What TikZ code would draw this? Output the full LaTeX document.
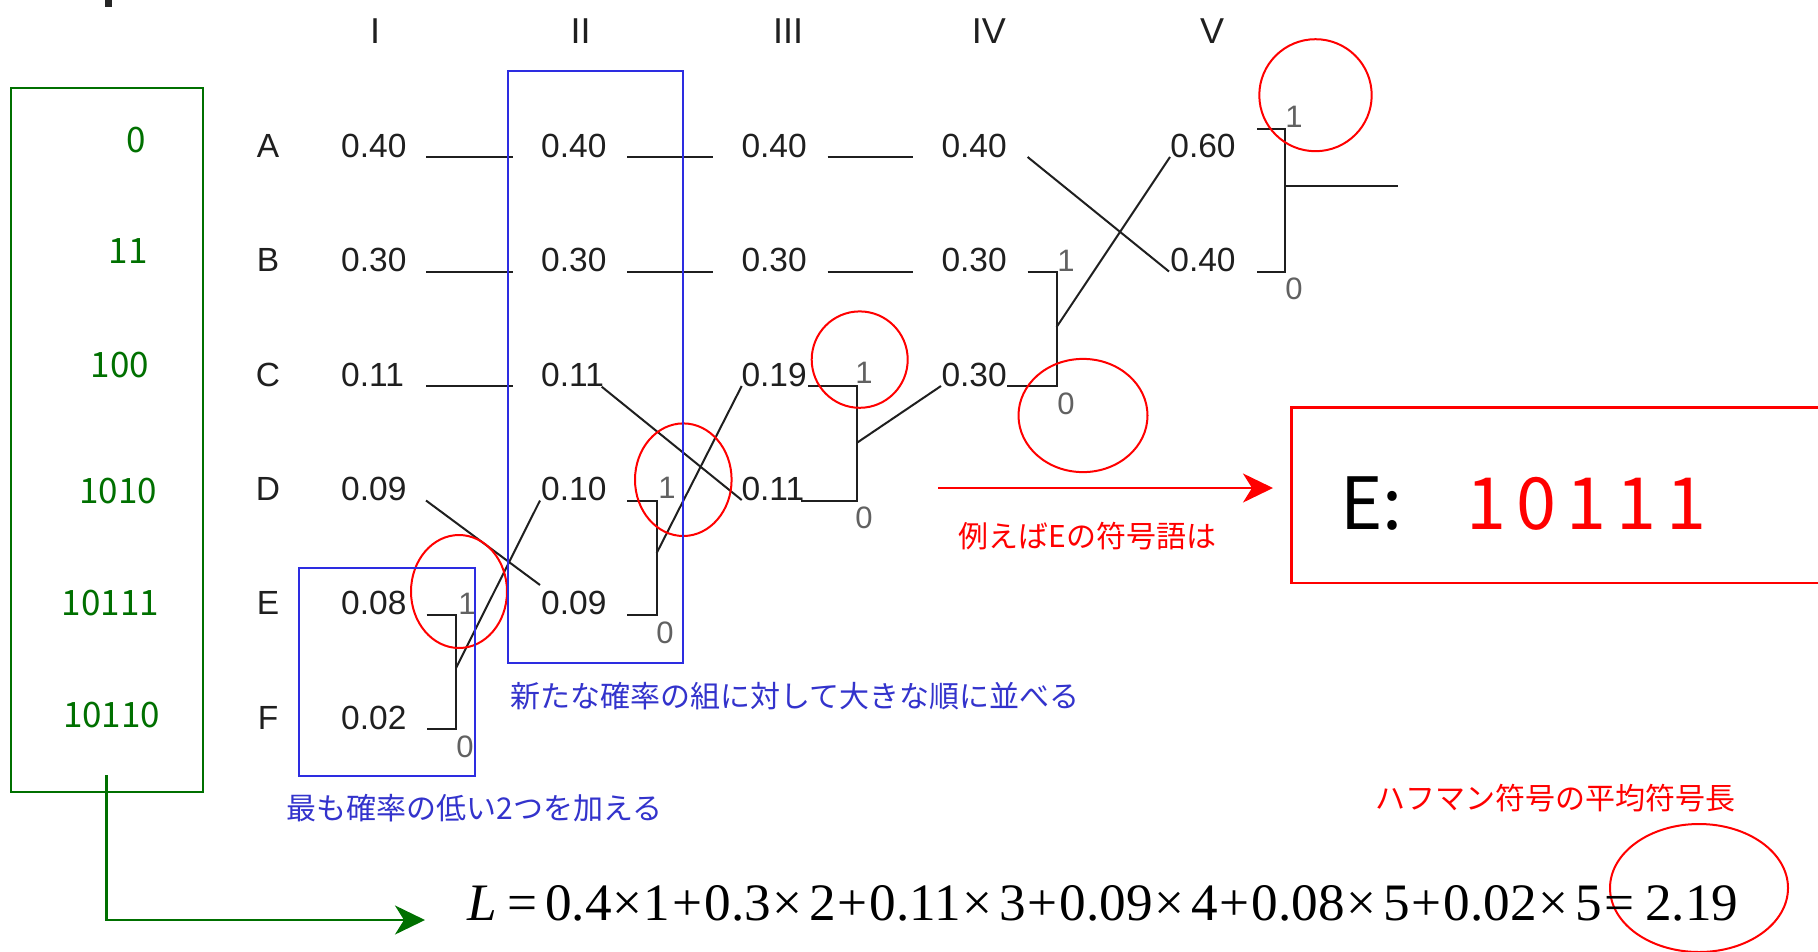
\documentclass[tikz,border=0pt]{standalone}
\usepackage{fontspec}
\setmainfont{Liberation Sans}
\newfontfamily\jp{Noto Sans CJK JP}
\newfontfamily\tms{Liberation Serif}
\usetikzlibrary{arrows.meta}
\definecolor{grn}{RGB}{0,112,0}
\definecolor{blutxt}{RGB}{51,51,204}
\definecolor{boxblue}{RGB}{45,45,225}
\definecolor{rd}{RGB}{255,0,0}
\definecolor{ink}{gray}{0.12}
\definecolor{lblgray}{gray}{0.38}
\begin{document}
\begin{tikzpicture}[x=1pt,y=-1pt,
  numtxt/.style={font=\fontsize{33.5}{38}\selectfont, text=ink, inner sep=0pt, anchor=base west},
  rowtxt/.style={font=\fontsize{33.5}{38}\selectfont, text=ink, inner sep=0pt, anchor=base},
  hdr/.style={font=\fontsize{36}{40}\selectfont, text=ink, inner sep=0pt, anchor=base},
  lbl/.style={font=\fontsize{31}{34}\selectfont, text=lblgray, inner sep=0pt},
  codetxt/.style={font=\jp\fontsize{35}{40}\selectfont, text=grn, inner sep=0pt, anchor=base},
  bluetxt/.style={font=\jp\fontsize{30}{34}\selectfont, text=blutxt, inner sep=0pt, anchor=west},
  redtxt/.style={font=\jp\fontsize{30}{34}\selectfont, text=rd, inner sep=0pt, anchor=west},
  conn/.style={draw=ink, line width=2pt},
  bluebox/.style={draw=boxblue, line width=2pt},
  greenbox/.style={draw=grn, line width=2.5pt},
  redell/.style={draw=rd, line width=2pt},
  redbox/.style={draw=rd, line width=2.5pt},
]
\useasboundingbox (0,0) rectangle (1818,951);
\fill[white] (0,0) rectangle (1818,951);
\clip (0,0) rectangle (1818,951);

% cropped glyph fragment at top-left
\fill[black!85] (105,0) rectangle (112,7);

% ---------- column headers
\node[hdr] (hI)   at (375,43)   {I};
\node[hdr] (hII)  at (580.6,43) {II};
\node[hdr] (hIII) at (788,43)   {III};
\node[hdr] (hIV)  at (988.8,43) {IV};
\node[hdr] (hV)   at (1212,43)  {V};

% ---------- row letters
\node[rowtxt] (rA) at (268,157)   {A};
\node[rowtxt] (rB) at (268,271.5) {B};
\node[rowtxt] (rC) at (268,386)   {C};
\node[rowtxt] (rD) at (268,500.5) {D};
\node[rowtxt] (rE) at (268,614.5) {E};
\node[rowtxt] (rF) at (268,729)   {F};

% ---------- probabilities
\node[numtxt] (IA) at (341,157)   {0.40};
\node[numtxt] (IB) at (341,271.5) {0.30};
\node[numtxt] (IC) at (341,386)   {0.11};
\node[numtxt] (ID) at (341,500.5) {0.09};
\node[numtxt] (IE) at (341,614.5) {0.08};
\node[numtxt] (IF) at (341,729)   {0.02};

\node[numtxt] (IIA) at (541,157)   {0.40};
\node[numtxt] (IIB) at (541,271.5) {0.30};
\node[numtxt] (IIC) at (541,386)   {0.11};
\node[numtxt] (IID) at (541,500.5) {0.10};
\node[numtxt] (IIE) at (541,614.5) {0.09};

\node[numtxt] (IIIA) at (741.3,157)   {0.40};
\node[numtxt] (IIIB) at (741.3,271.5) {0.30};
\node[numtxt] (IIIC) at (741.3,386)   {0.19};
\node[numtxt] (IIID) at (741.3,500.5) {0.11};

\node[numtxt] (IVA) at (941.3,157)   {0.40};
\node[numtxt] (IVB) at (941.3,271.5) {0.30};
\node[numtxt] (IVC) at (941.3,386)   {0.30};

\node[numtxt] (VA) at (1170.2,157)   {0.60};
\node[numtxt] (VB) at (1170.2,271.5) {0.40};

% ---------- connector end points
\coordinate (a1s) at (426,157);   \coordinate (a1e) at (513,157);
\coordinate (b1s) at (426,271.5); \coordinate (b1e) at (513,271.5);
\coordinate (c1s) at (426,386);   \coordinate (c1e) at (513,386);
\coordinate (a2s) at (627,157);   \coordinate (a2e) at (713,157);
\coordinate (b2s) at (627,271.5); \coordinate (b2e) at (713,271.5);
\coordinate (a3s) at (827.5,157);   \coordinate (a3e) at (913,157);
\coordinate (b3s) at (827.5,271.5); \coordinate (b3e) at (913,271.5);

\coordinate (d1s) at (426,500.5); \coordinate (d1e) at (540,585);
\coordinate (f1t0) at (426.7,614.5); \coordinate (f1t1) at (456,614.5);
\coordinate (f1b1) at (456,729);     \coordinate (f1b0) at (426.7,729);
\coordinate (f1j) at (456,668);      \coordinate (f1to) at (540,500.5);

\coordinate (c2s) at (601.7,386.7); \coordinate (c2e) at (741.7,500);
\coordinate (f2t0) at (627,500.5);   \coordinate (f2t1) at (656.7,500.5);
\coordinate (f2b1) at (656.7,614.5); \coordinate (f2b0) at (627,614.5);
\coordinate (f2j) at (656.7,553);    \coordinate (f2to) at (741.7,386);

\coordinate (f3t0) at (808,386);     \coordinate (f3t1) at (856.6,386);
\coordinate (f3b1) at (856.6,500.5); \coordinate (f3b0) at (800.5,500.5);
\coordinate (f3j) at (856.6,443);    \coordinate (f3to) at (941,386);

\coordinate (a4s) at (1027.6,157);   \coordinate (a4e) at (1169,271.5);
\coordinate (f4t0) at (1027.6,271.5); \coordinate (f4t1) at (1056.6,271.5);
\coordinate (f4b1) at (1056.6,386);   \coordinate (f4b0) at (1007,386);
\coordinate (f4j) at (1056.6,327);    \coordinate (f4to) at (1170,157);

\coordinate (f5t0) at (1257,129);   \coordinate (f5t1) at (1285,129);
\coordinate (f5b1) at (1285,271.5); \coordinate (f5b0) at (1257,271.5);
\coordinate (f5j) at (1285,185.7);  \coordinate (f5out) at (1398,185.7);

% ---------- connectors
\draw[conn] (a1s) -- (a1e);
\draw[conn] (b1s) -- (b1e);
\draw[conn] (c1s) -- (c1e);
\draw[conn] (a2s) -- (a2e);
\draw[conn] (b2s) -- (b2e);
\draw[conn] (a3s) -- (a3e);
\draw[conn] (b3s) -- (b3e);
\draw[conn] (d1s) -- (d1e);
\draw[conn] (f1t0) -- (f1t1) -- (f1b1) -- (f1b0);
\draw[conn] (f1j) -- (f1to);
\draw[conn] (c2s) -- (c2e);
\draw[conn] (f2t0) -- (f2t1) -- (f2b1) -- (f2b0);
\draw[conn] (f2j) -- (f2to);
\draw[conn] (f3t0) -- (f3t1) -- (f3b1) -- (f3b0);
\draw[conn] (f3j) -- (f3to);
\draw[conn] (a4s) -- (a4e);
\draw[conn] (f4t0) -- (f4t1) -- (f4b1) -- (f4b0);
\draw[conn] (f4j) -- (f4to);
\draw[conn] (f5t0) -- (f5t1) -- (f5b1) -- (f5b0);
\draw[conn] (f5j) -- (f5out);

% ---------- branch labels
\node[lbl] (l1a) at (467,603.5) {1};
\node[lbl] (l1b) at (465,746.5) {0};
\node[lbl] (l2a) at (667,488)   {1};
\node[lbl] (l2b) at (665,633)   {0};
\node[lbl] (l3a) at (864,373)   {1};
\node[lbl] (l3b) at (864,518)   {0};
\node[lbl] (l4a) at (1066,261)  {1};
\node[lbl] (l4b) at (1066,404)  {0};
\node[lbl] (l5a) at (1294,116.7) {1};
\node[lbl] (l5b) at (1294,288.5) {0};

% ---------- red ellipses
\draw[redell] (459,591.5) ellipse [x radius=48pt, y radius=56.5pt];
\draw[redell] (683.3,479.7) ellipse [x radius=48.3pt, y radius=56.3pt];
\draw[redell] (859.7,359.6) ellipse [x radius=48pt, y radius=48.2pt];
\draw[redell] (1083,415.5) ellipse [x radius=64.5pt, y radius=56.6pt];
\draw[redell] (1315.5,95.2) ellipse [x radius=56.2pt, y radius=56pt];
\draw[redell] (1699,888) ellipse [x radius=89pt, y radius=64pt];

% ---------- blue boxes and notes
\draw[bluebox] (299,568) rectangle (475,776);
\draw[bluebox] (507.7,71) rectangle (683.3,663);
\node[bluetxt] (note1) at (510,696) {新たな確率の組に対して大きな順に並べる};
\node[bluetxt] (note2) at (286.7,808) {最も確率の低い2つを加える};

% ---------- green code box
\draw[greenbox] (11,88) rectangle (203,792);
\node[codetxt] (cA) at (136,152)   {0};
\node[codetxt] (cB) at (128,263)   {11};
\node[codetxt] (cC) at (120,377)   {100};
\node[codetxt] (cD) at (118,503)   {1010};
\node[codetxt] (cE) at (110.5,615) {10111};
\node[codetxt] (cF) at (111.6,727) {10110};
\coordinate (gs) at (106.7,775);
\coordinate (gc) at (106.7,920);
\node[inner sep=0pt, anchor=base west] (formula) at (467,920)
  {\resizebox{1271pt}{35pt}{\tms\fontsize{52}{56}\selectfont\textit{L}\hspace{10pt}=\hspace{8pt}0.4\hspace{1pt}×\hspace{1pt}1\hspace{2pt}+\hspace{2pt}0.3\hspace{1pt}×\hspace{7pt}2\hspace{2pt}+\hspace{2pt}0.11\hspace{1pt}×\hspace{7pt}3\hspace{2pt}+\hspace{2pt}0.09\hspace{1pt}×\hspace{7pt}4\hspace{2pt}+\hspace{2pt}0.08\hspace{1pt}×\hspace{7pt}5\hspace{2pt}+\hspace{2pt}0.02\hspace{1pt}×\hspace{7pt}5\hspace{3pt}=\hspace{10pt}2.19}};
\coordinate (gt) at (425,920);
\draw[draw=grn, line width=2.5pt, -{Stealth[length=30pt, width=29pt, inset=9pt]}] (gs) -- (gc) -- (gt);

% ---------- red example
\coordinate (ra) at (938,488);
\coordinate (rb) at (1273,488);
\draw[draw=rd, line width=2.5pt, -{Stealth[length=30pt, width=29pt, inset=9pt]}] (ra) -- (rb);
\node[redtxt] (ex) at (958.7,536) {例えばEの符号語は};
\draw[redbox] (1291.4,407.7) rectangle (1840,583);
\node[inner sep=0pt, anchor=base west, font=\jp\fontsize{72}{80}\selectfont] (Elab) at (1340,529) {E:};
\node[inner sep=0pt, anchor=base west, text=rd, font=\jp\fontsize{72}{80}\selectfont\addfontfeature{LetterSpace=14}] (Ecode) at (1466,529) {10111};
\node[redtxt] (avg) at (1375,798) {ハフマン符号の平均符号長};
\end{tikzpicture}
\end{document}
